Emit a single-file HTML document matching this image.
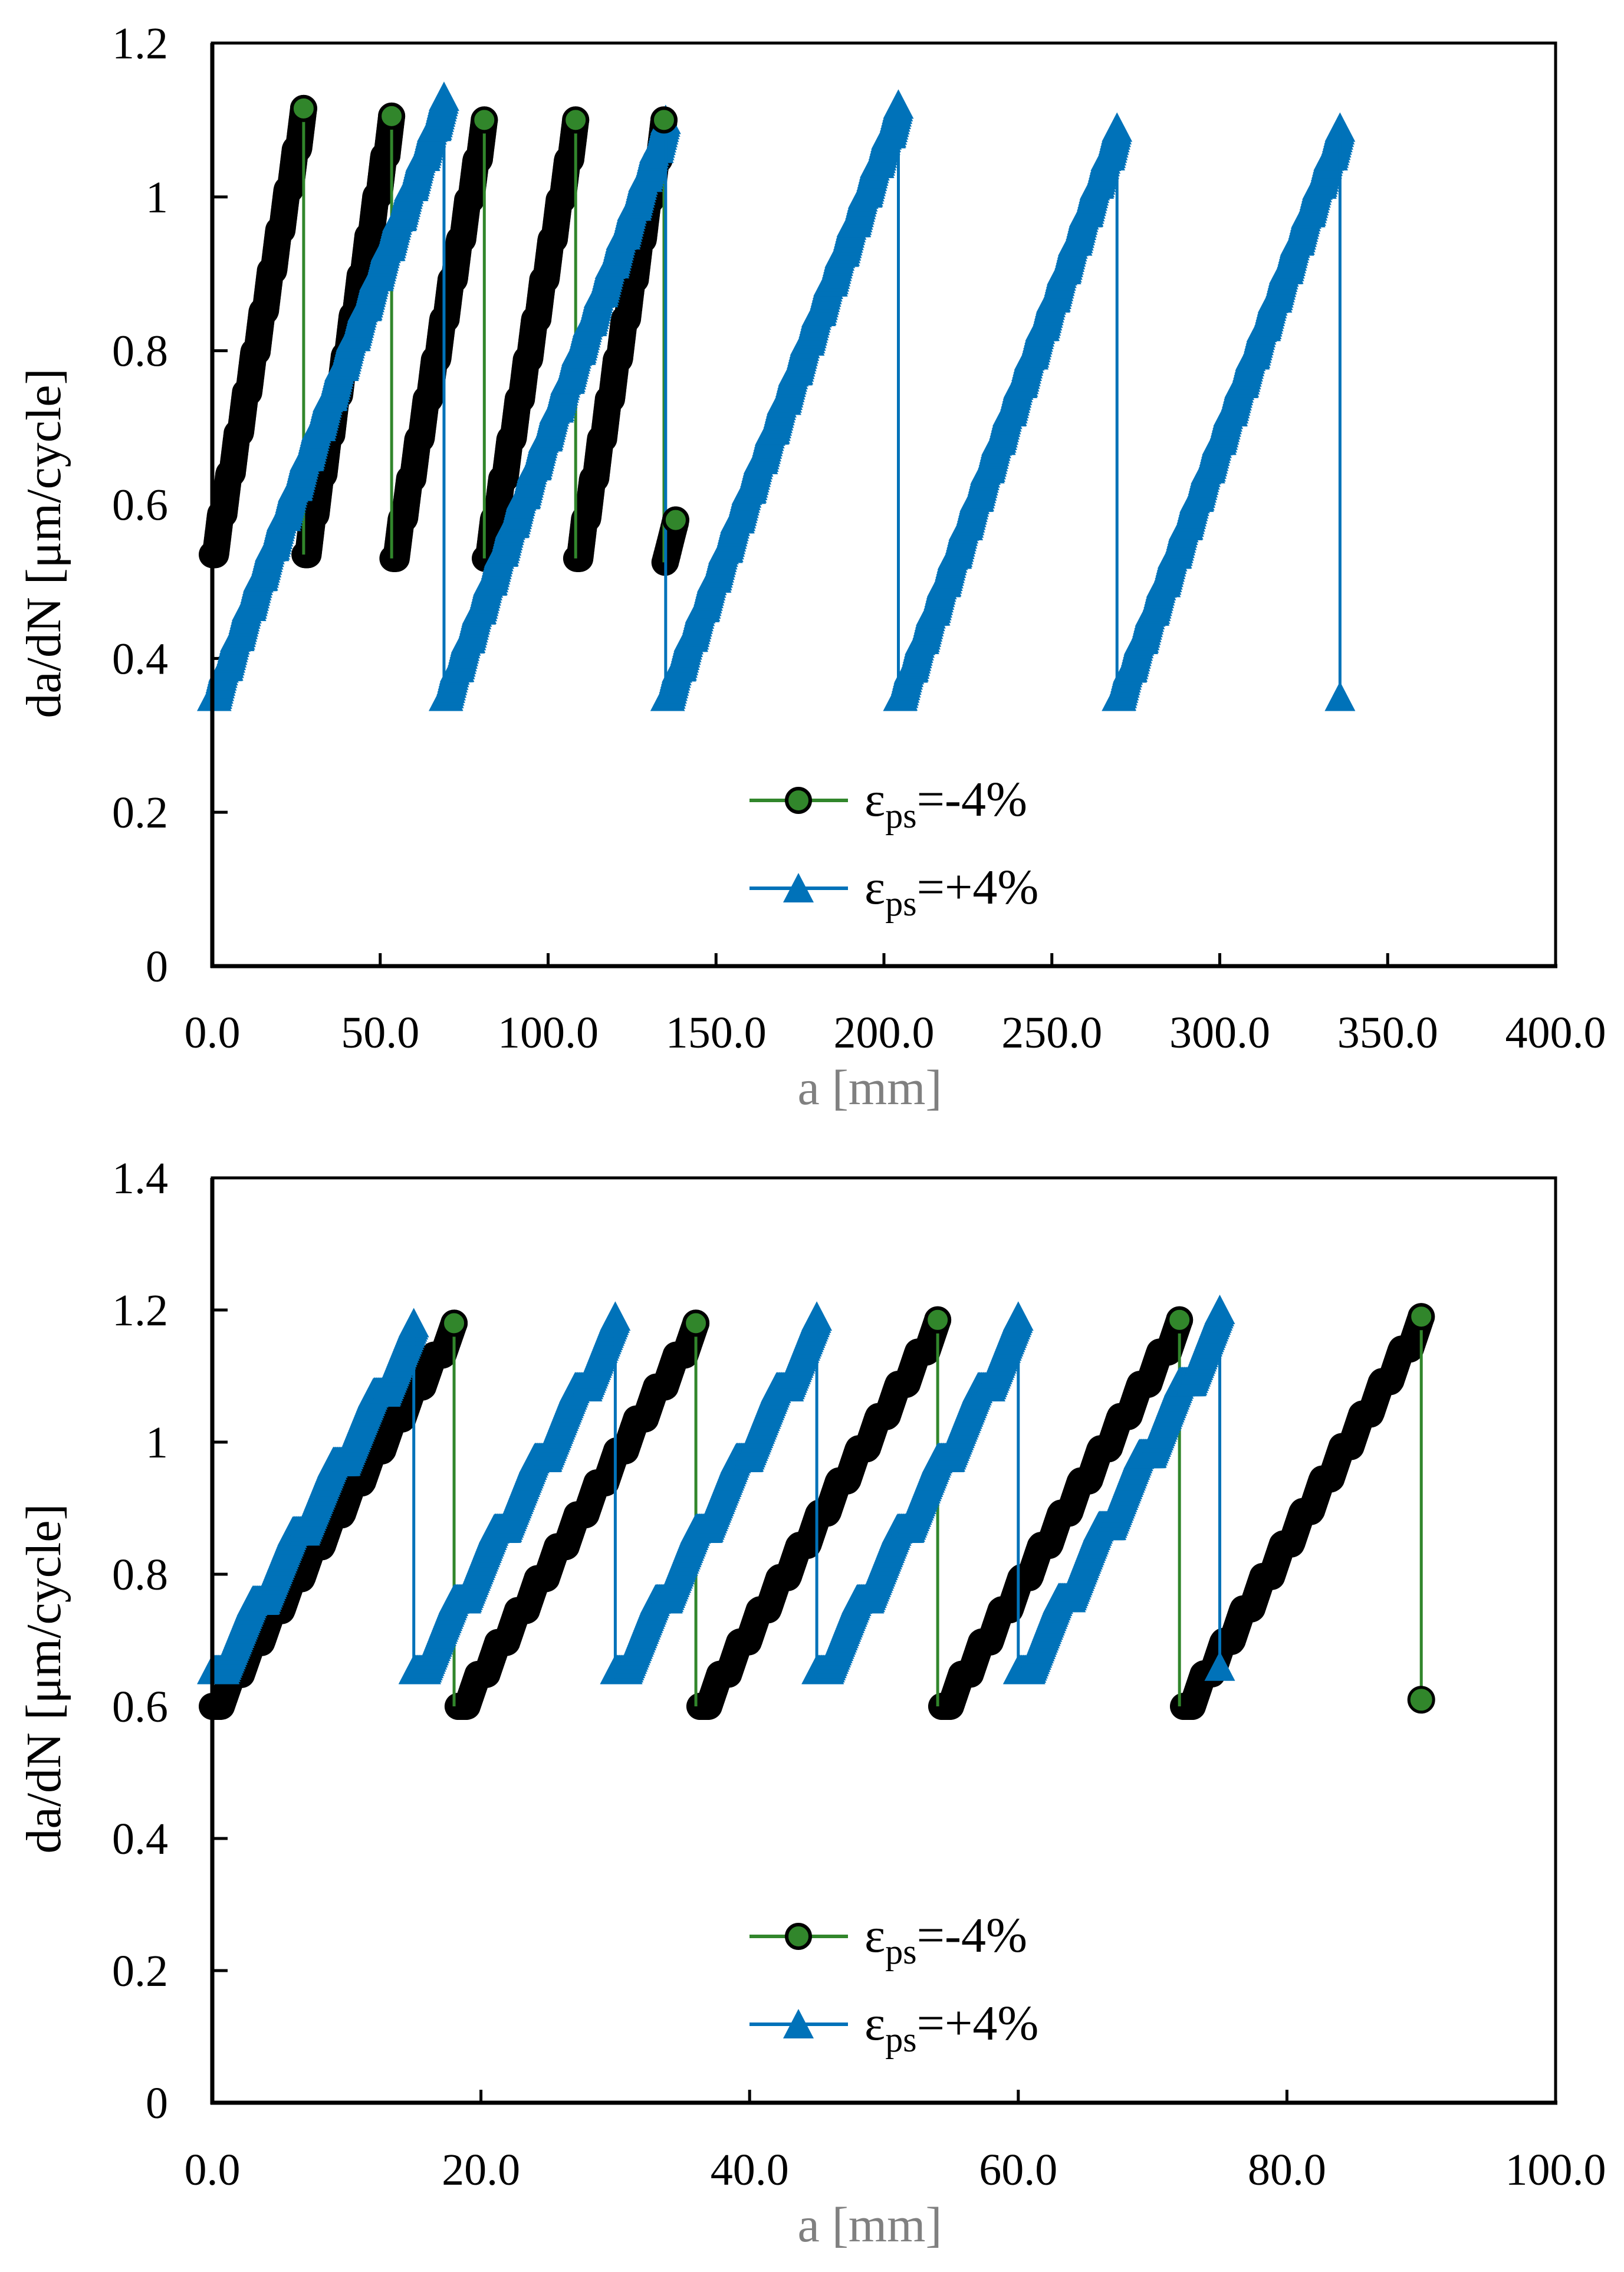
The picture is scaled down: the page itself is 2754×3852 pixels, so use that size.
<!DOCTYPE html>
<html>
<head>
<meta charset="utf-8">
<style>
  html,body{margin:0;padding:0;background:#fff;}
  svg{display:block;}
  text{font-family:"Liberation Serif",serif;}
</style>
</head>
<body>
<svg id="chart" width="2754" height="3852" viewBox="0 0 2754 3852" xmlns="http://www.w3.org/2000/svg"></svg>
<script>
// ---------- TOP CHART DATA ----------
const topXTicks = [0, 50, 100, 150, 200, 250, 300, 350, 400];
const topYTicks = [0, 0.2, 0.4, 0.6, 0.8, 1, 1.2];
const topCircleStart = [0, 27.6, 53.8, 81.3, 108.5, 134.8];
const topCircleEnd   = [27.2, 53.4, 81, 108.2, 134.5, 138];
const topCircleLow   = [0.535, 0.535, 0.53, 0.53, 0.53, 0.525];
const topCircleHigh  = [1.115, 1.105, 1.10, 1.10, 1.10, 0.58];
const topTriStart = [0, 69, 135, 204.3, 269.4];
const topTriEnd   = [69, 135, 204.3, 269.4, 335.8];
const topTriLow   = [0.35, 0.35, 0.35, 0.35, 0.35];
const topTriHigh  = [1.13, 1.10, 1.12, 1.09, 1.09];
const topTriFinal = [335.8, 0.35];

// ---------- BOTTOM CHART DATA ----------
const botXTicks = [0, 20, 40, 60, 80, 100];
const botYTicks = [0, 0.2, 0.4, 0.6, 0.8, 1, 1.2, 1.4];
const botCircleStart = [0, 18.3, 36.3, 54.3, 72.3];
const botCircleEnd   = [18, 36, 54, 72, 90];
const botCircleLow   = [0.60, 0.60, 0.60, 0.60, 0.60];
const botCircleHigh  = [1.18, 1.18, 1.185, 1.185, 1.19];
const botCircleFinal = [90, 0.61];
const botTriStart = [0, 15, 30, 45, 60];
const botTriEnd   = [15, 30, 45, 60, 75];
const botTriLow   = [0.655, 0.655, 0.655, 0.655, 0.655];
const botTriHigh  = [1.18, 1.19, 1.19, 1.19, 1.20];
const botTriFinal = [75, 0.66];

const NS = "http://www.w3.org/2000/svg";
const svg = document.getElementById('chart');
const GREEN = "#31862b", BLUE = "#0072b9";

function mk(tag, attrs, parent) {
  const e = document.createElementNS(NS, tag);
  for (const k in attrs) e.setAttribute(k, attrs[k]);
  (parent || svg).appendChild(e);
  return e;
}

function staircase(x0, x1, y0, y1, n, flat, sx, sy, spacing) {
  const pts = [];
  const len = Math.abs(sx(x1) - sx(x0)) + Math.abs(sy(y1) - sy(y0));
  const N = Math.max(2, Math.ceil(len / spacing));
  for (let i = 0; i <= N; i++) {
    const t = i / N;
    let k = Math.floor(t * n); if (k >= n) k = n - 1;
    const u = t * n - k;
    const frac = (k + (u < flat ? 0 : (u - flat) / (1 - flat))) / n;
    pts.push([sx(x0 + (x1 - x0) * t), sy(y0 + (y1 - y0) * frac)]);
  }
  return pts;
}

function triPath(cx, cy) {
  return `M${cx - 26},${cy + 24} L${cx},${cy - 26} L${cx + 26},${cy + 24} Z`;
}

function drawChart(cfg) {
  const g = mk('g', {});
  
  
  const sx = v => cfg.L + (v - cfg.xMin) / (cfg.xMax - cfg.xMin) * (cfg.R - cfg.L);
  const sy = v => cfg.B - (v - cfg.yMin) / (cfg.yMax - cfg.yMin) * (cfg.B - cfg.T);

  cfg.yTicks.forEach(v => {
    const t = mk('line', {x1: cfg.L, x2: cfg.L + 26, y1: sy(v), y2: sy(v), stroke: '#000', 'stroke-width': 5}, g);
    
    
    const lb = mk('text', {x: 285, y: sy(v) + 26, 'text-anchor': 'end', 'font-size': 76, fill: '#000'}, g);
    
    
    lb.textContent = String(v);
  });
  cfg.xTicks.forEach(v => {
    const t = mk('line', {x1: sx(v), x2: sx(v), y1: cfg.B, y2: cfg.B - 22, stroke: '#000', 'stroke-width': 5}, g);
    
    
    const lb = mk('text', {x: sx(v), y: cfg.xLabelY, 'text-anchor': 'middle', 'font-size': 76, fill: '#000'}, g);
    
    
    lb.textContent = v.toFixed(1);
  });

  const blk = mk('g', {fill: '#000'}, g);
  
  
  for (let i = 0; i < cfg.cS.length; i++) {
    const pts = staircase(cfg.cS[i], cfg.cE[i], cfg.cL[i], cfg.cH[i], cfg.cSteps, cfg.cFlat, sx, sy, 4);
    pts.forEach(p => {
      const c = mk('circle', {cx: p[0], cy: p[1], r: 23}, blk);
      
      
    });
  }
  for (let i = 0; i < cfg.cS.length; i++) {
    let yTo = null;
    if (i + 1 < cfg.cS.length) yTo = cfg.cL[i + 1];
    else if (cfg.cFinal) yTo = cfg.cFinal[1];
    if (yTo === null) continue;
    const ln = mk('line', {x1: sx(cfg.cE[i]), x2: sx(cfg.cE[i]), y1: sy(cfg.cH[i]), y2: sy(yTo), stroke: GREEN, 'stroke-width': 5}, g);
    
    
  }
  if (cfg.cFinal) {
    const c = mk('circle', {cx: sx(cfg.cFinal[0]), cy: sy(cfg.cFinal[1]), r: 21, fill: GREEN, stroke: '#000', 'stroke-width': 5}, g);
    
    
  }

  const blu = mk('g', {fill: BLUE}, g);
  
  
  for (let i = 0; i < cfg.tS.length; i++) {
    const pts = staircase(cfg.tS[i], cfg.tE[i], cfg.tL[i], cfg.tH[i], cfg.tSteps, cfg.tFlat, sx, sy, 4);
    pts.forEach(p => {
      const tr = mk('path', {d: triPath(p[0], p[1])}, blu);
      
      
    });
  }
  for (let i = 0; i < cfg.tS.length; i++) {
    const yTo = (i + 1 < cfg.tS.length) ? cfg.tL[i + 1] : cfg.tFinal[1];
    const ln = mk('line', {x1: sx(cfg.tE[i]), x2: sx(cfg.tE[i]), y1: sy(cfg.tH[i]), y2: sy(yTo), stroke: BLUE, 'stroke-width': 5}, g);
    
    
  }
  const ft = mk('path', {d: triPath(sx(cfg.tFinal[0]), sy(cfg.tFinal[1])), fill: BLUE}, g);
  
  

  for (let i = 0; i < cfg.cS.length; i++) {
    const c = mk('circle', {cx: sx(cfg.cE[i]), cy: sy(cfg.cH[i]), r: 20, fill: GREEN, stroke: '#000', 'stroke-width': 6}, g);
    
    
  }

  const fr = mk('rect', {x: cfg.L, y: cfg.T, width: cfg.R - cfg.L, height: cfg.B - cfg.T, fill: 'none', stroke: '#000', 'stroke-width': 5}, g);
  
  
  const ax = mk('line', {x1: cfg.L, x2: cfg.L, y1: cfg.T, y2: cfg.B + 3, stroke: '#000', 'stroke-width': 7}, g);
  
  
  const axx = mk('line', {x1: cfg.L - 3, x2: cfg.R + 3, y1: cfg.B, y2: cfg.B, stroke: '#000', 'stroke-width': 7}, g);
  
  

  const xt = mk('text', {x: 1475, y: cfg.xTitleY, 'text-anchor': 'middle', 'font-size': 84, fill: '#808080'}, g);
  
  
  xt.textContent = 'a [mm]';
  const yt = mk('text', {x: 0, y: 0, 'text-anchor': 'middle', 'font-size': 84, fill: '#000',
    transform: `translate(102,${cfg.yTitleY}) rotate(-90)`}, g);
  
  
  yt.textContent = 'da/dN [\u03bcm/cycle]';

  const lg = mk('g', {}, g);
  
  
  const rows = [['-4%', 'circle', GREEN], ['+4%', 'tri', BLUE]];
  rows.forEach((r, i) => {
    const y = cfg.legY[i];
    const e = mk('g', {}, lg);
    
    
    mk('line', {x1: 1271, x2: 1438, y1: y, y2: y, stroke: r[2], 'stroke-width': 6}, e);
    if (r[1] === 'circle') mk('circle', {cx: 1354, cy: y, r: 20, fill: GREEN, stroke: '#000', 'stroke-width': 6}, e);
    else mk('path', {d: triPath(1354, y), fill: BLUE}, e);
    const t = mk('text', {x: 1466, y: y + 26, 'font-size': 84, fill: '#000'}, e);
    t.innerHTML = '\u03b5<tspan dy="20" font-size="60">ps</tspan><tspan dy="-20">=' + r[0] + '</tspan>';
  });
}

drawChart({name: 'top-chart', L: 360, R: 2638, T: 73, B: 1638, xMin: 0, xMax: 400, yMin: 0, yMax: 1.2,
  xTicks: topXTicks, yTicks: topYTicks, xLabelY: 1776, xTitleY: 1872, yTitleY: 921, legY: [1357, 1506],
  cS: topCircleStart, cE: topCircleEnd, cL: topCircleLow, cH: topCircleHigh, cFinal: null, cSteps: 11, cFlat: 0.4,
  tS: topTriStart, tE: topTriEnd, tL: topTriLow, tH: topTriHigh, tFinal: topTriFinal, tSteps: 20, tFlat: 0.35});

drawChart({name: 'bottom-chart', L: 360, R: 2638, T: 1997, B: 3565, xMin: 0, xMax: 100, yMin: 0, yMax: 1.4,
  xTicks: botXTicks, yTicks: botYTicks, xLabelY: 3704, xTitleY: 3800, yTitleY: 2846, legY: [3283, 3432],
  cS: botCircleStart, cE: botCircleEnd, cL: botCircleLow, cH: botCircleHigh, cFinal: botCircleFinal, cSteps: 12, cFlat: 0.45,
  tS: botTriStart, tE: botTriEnd, tL: botTriLow, tH: botTriHigh, tFinal: botTriFinal, tSteps: 5, tFlat: 0.3});
</script>
</body>
</html>
